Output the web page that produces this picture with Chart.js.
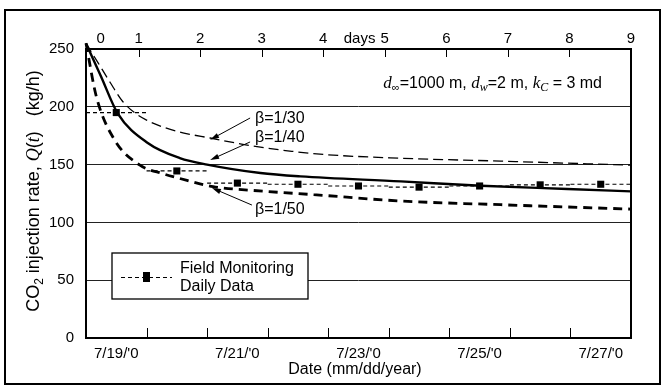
<!DOCTYPE html>
<html><head><meta charset="utf-8">
<script src="https://cdn.jsdelivr.net/npm/chart.js@4/dist/chart.umd.min.js"></script>
<style>html,body{margin:0;padding:0;background:#fff}#wrap{width:664px;height:387px}</style>
</head><body><div id="wrap"><canvas id="c" width="664" height="387"></canvas></div>
<script>
// ---- data ----
const dateLabels = ["7/19/'0", "7/21/'0", "7/23/'0", "7/25/'0", "7/27/'0"];
const dateLabelDays = [0.5, 2.5, 4.5, 6.5, 8.5];
const topDayLabels = ['0', '1', '2', '3', '4', '5', '6', '7', '8', '9'];
const yTicks = [0, 50, 100, 150, 200, 250];

const fieldDays = [0.5, 1.5, 2.5, 3.5, 4.5, 5.5, 6.5, 7.5, 8.5];
const fieldRate = [195, 144.5, 134, 133, 131.5, 130.5, 131.5, 132.5, 133];

const beta30Days = [0, 0.2, 0.4, 0.6, 0.8, 1.0, 1.3, 1.6, 2.05, 2.7, 3.4, 4.0, 5.2, 6.85, 9.0];
const beta30Rate = [255, 238, 221, 205, 195, 188.5, 182, 177.5, 173, 166.5, 161.5, 158.5, 155.5, 153, 149.5];
const beta40Days = [0, 0.25, 0.52, 1.02, 1.55, 2.0, 2.88, 3.54, 5.2, 6.52, 7.95, 9.0];
const beta40Rate = [255, 226, 194.6, 168.7, 155.7, 150, 142.7, 139.8, 135.5, 131.7, 128.9, 126.8];
const beta50Days = [0, 0.17, 0.47, 0.89, 1.28, 1.55, 2.1, 2.93, 3.76, 5.2, 6.85, 9.0];
const beta50Rate = [255, 209, 171.5, 149.5, 142, 138, 131, 127, 124, 118.5, 115.3, 111.5];

const betaLabels = ['\u03b2=1/30', '\u03b2=1/40', '\u03b2=1/50'];

// ---- helpers ----
const SANS = '"Liberation Sans", Arial, sans-serif';
const SERIF = '"Liberation Serif", "Times New Roman", serif';
const toXY = (xs, ys) => xs.map((x, i) => ({x: x, y: ys[i]}));

const segData = [];
fieldDays.forEach((d, i) => {
  segData.push({x: d - 0.5, y: fieldRate[i]}, {x: d + 0.5, y: fieldRate[i]}, {x: d + 0.5, y: null});
});

const topTicks = topDayLabels.map((l, i) => ({value: i === 0 ? 0.385 : i, label: l}));
topTicks.push({value: 4.59, label: 'days'});

function drawRuns(ctx, runs, x, y, align) {
  let w = 0;
  runs.forEach(r => { ctx.font = r.f; r.w = ctx.measureText(r.t).width; w += r.w; });
  let cx = align === 'right' ? x - w : align === 'center' ? x - w / 2 : x;
  runs.forEach(r => { ctx.font = r.f; ctx.fillText(r.t, cx, y + (r.dy || 0)); cx += r.w; });
}
function arrow(ctx, x1, y1, x2, y2) {
  const a = Math.atan2(y2 - y1, x2 - x1), L = 9, H = 2.6;
  ctx.beginPath(); ctx.moveTo(x1, y1); ctx.lineTo(x2 - Math.cos(a) * L * 0.6, y2 - Math.sin(a) * L * 0.6); ctx.stroke();
  ctx.beginPath();
  ctx.moveTo(x2, y2);
  ctx.lineTo(x2 - Math.cos(a) * L + Math.sin(a) * H, y2 - Math.sin(a) * L - Math.cos(a) * H);
  ctx.lineTo(x2 - Math.cos(a) * L - Math.sin(a) * H, y2 - Math.sin(a) * L + Math.cos(a) * H);
  ctx.closePath(); ctx.fill();
}

const decor = {
  id: 'decor',
  afterDraw(chart) {
    const ctx = chart.ctx, a = chart.chartArea, xs = chart.scales.x, x2 = chart.scales.x2, ys = chart.scales.y;
    ctx.save();
    ctx.strokeStyle = '#000'; ctx.fillStyle = '#000';
    // outer frame
    ctx.lineWidth = 2;
    ctx.strokeRect(5, 10, 655, 374);
    // plot border
    ctx.strokeRect(a.left, a.top, a.right - a.left, a.bottom - a.top);
    // inward ticks
    ctx.lineWidth = 1;
    ctx.beginPath();
    for (let d = 1; d <= 8; d++) {
      const xb = Math.round(xs.getPixelForValue(d)) + 0.5;
      ctx.moveTo(xb, a.bottom); ctx.lineTo(xb, a.bottom - 10);
      const xt = Math.round(x2.getPixelForValue(d)) + 0.5;
      ctx.moveTo(xt, a.top); ctx.lineTo(xt, a.top + 8);
    }
    ctx.stroke();

    // beta labels + arrows (data coordinates)
    const P = (u, v) => [xs.getPixelForValue(u), ys.getPixelForValue(v)];
    ctx.font = '16px ' + SANS; ctx.textBaseline = 'middle'; ctx.textAlign = 'left';
    const lab = [[2.79, 189.4], [2.79, 173.3], [2.79, 110.7]];
    lab.forEach((p, i) => { const q = P(p[0], p[1]); ctx.fillText(betaLabels[i], q[0], q[1]); });
    ctx.lineWidth = 1;
    const arr = [[2.71, 190.3, 2.05, 171.5], [2.71, 169.6, 2.05, 154], [2.74, 115, 2.08, 129.8]];
    arr.forEach(r => { const s = P(r[0], r[1]), e = P(r[2], r[3]); arrow(ctx, s[0], s[1], e[0], e[1]); });

    // parameter text
    ctx.textBaseline = 'alphabetic';
    drawRuns(ctx, [
      {t: 'd', f: 'italic 17px ' + SERIF},
      {t: '\u221e', f: '11px ' + SANS, dy: 3},
      {t: '=1000 m, ', f: '16px ' + SANS},
      {t: 'd', f: 'italic 17px ' + SERIF},
      {t: 'w', f: 'italic 12px ' + SERIF, dy: 3},
      {t: '=2 m, ', f: '16px ' + SANS},
      {t: 'k', f: 'italic 17px ' + SERIF},
      {t: 'C', f: 'italic 12px ' + SERIF, dy: 3},
      {t: ' = 3 md', f: '16px ' + SANS}
    ], 602, 88, 'right');

    // legend box
    ctx.fillStyle = '#fff';
    ctx.fillRect(112, 253, 196, 46);
    ctx.fillStyle = '#000';
    ctx.lineWidth = 1.3;
    ctx.strokeRect(112, 253, 196, 46);
    ctx.lineWidth = 1.2;
    ctx.setLineDash([4, 3]);
    ctx.beginPath(); ctx.moveTo(121, 277.5); ctx.lineTo(172, 277.5); ctx.stroke();
    ctx.setLineDash([]);
    ctx.fillRect(143, 272, 7, 10);
    ctx.font = '16px ' + SANS; ctx.textBaseline = 'middle'; ctx.textAlign = 'left';
    ctx.fillText('Field Monitoring', 180, 268.5);
    ctx.fillText('Daily Data', 180, 287);

    // x title
    ctx.textAlign = 'center';
    ctx.fillText('Date (mm/dd/year)', 355, 370);

    // y title (rotated)
    ctx.textAlign = 'left'; ctx.textBaseline = 'alphabetic';
    ctx.translate(33, 191);
    ctx.rotate(-Math.PI / 2);
    drawRuns(ctx, [
      {t: 'CO', f: '18px ' + SANS},
      {t: '2', f: '12px ' + SANS, dy: 4},
      {t: ' injection rate, ', f: '18px ' + SANS},
      {t: 'Q', f: 'italic 18px ' + SERIF},
      {t: '(', f: '18px ' + SANS},
      {t: 't', f: 'italic 18px ' + SERIF},
      {t: ')', f: '18px ' + SANS},
      {t: '   (kg/h)', f: '18px ' + SANS}
    ], 0, 6, 'center');
    ctx.restore();
  }
};

new Chart(document.getElementById('c'), {
  type: 'line',
  data: {
    datasets: [
      {data: segData, borderColor: '#000', borderWidth: 1.2, borderDash: [4, 3], pointRadius: 0, spanGaps: false, xAxisID: 'x', yAxisID: 'y'},
      {data: toXY(fieldDays, fieldRate), showLine: false, pointStyle: 'rect', pointRadius: 5, backgroundColor: '#000', borderColor: '#000', borderWidth: 0, xAxisID: 'x', yAxisID: 'y'},
      {data: toXY(beta30Days, beta30Rate), borderColor: '#000', borderWidth: 1.3, borderDash: [10, 5], pointRadius: 0, cubicInterpolationMode: 'monotone', clip: false, xAxisID: 'x', yAxisID: 'y'},
      {data: toXY(beta40Days, beta40Rate), borderColor: '#000', borderWidth: 2.4, pointRadius: 0, cubicInterpolationMode: 'monotone', clip: false, xAxisID: 'x', yAxisID: 'y'},
      {data: toXY(beta50Days, beta50Rate), borderColor: '#000', borderWidth: 2.8, borderDash: [9, 6], pointRadius: 0, cubicInterpolationMode: 'monotone', clip: false, xAxisID: 'x', yAxisID: 'y'}
    ]
  },
  options: {
    responsive: false, animation: false, devicePixelRatio: 1,
    layout: {padding: {left: 0, top: 0, right: 33, bottom: 0}},
    plugins: {legend: {display: false}, tooltip: {enabled: false}},
    scales: {
      x: {
        type: 'linear', position: 'bottom', min: 0, max: 9,
        afterBuildTicks: s => { s.ticks = dateLabelDays.map(v => ({value: v})); },
        afterFit: s => { s.height = 49; },
        ticks: {autoSkip: false, maxRotation: 0, padding: 7, color: '#000', font: {family: SANS, size: 15},
          callback: (v, i) => dateLabels[i]},
        grid: {display: false, drawTicks: false}, border: {display: false}
      },
      x2: {
        type: 'linear', position: 'top', min: 0.146, max: 9,
        afterBuildTicks: s => { s.ticks = topTicks.map(t => ({value: t.value})); },
        afterFit: s => { s.height = 49; },
        ticks: {autoSkip: false, maxRotation: 0, padding: 1, color: '#000', font: {family: SANS, size: 15},
          callback: (v, i) => topTicks[i].label},
        grid: {display: false, drawTicks: false}, border: {display: false}
      },
      y: {
        type: 'linear', min: 0, max: 250,
        afterBuildTicks: s => { s.ticks = yTicks.map(v => ({value: v})); },
        afterFit: s => { s.width = 86; },
        ticks: {padding: 12, color: '#000', font: {family: SANS, size: 15}},
        grid: {drawTicks: false, lineWidth: 1,
          color: c => (c.tick && (c.tick.value === 0 || c.tick.value === 250)) ? 'rgba(0,0,0,0)' : '#222'},
        border: {display: false}
      }
    }
  },
  plugins: [decor]
});
</script>
</body></html>
